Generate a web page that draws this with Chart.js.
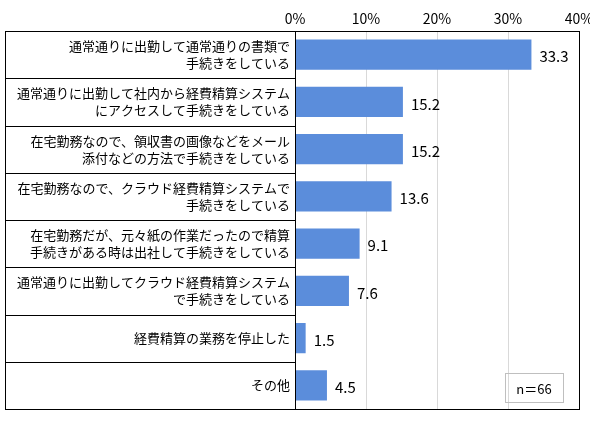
<!DOCTYPE html>
<html lang="ja">
<head>
<meta charset="UTF-8">
<script src="https://cdn.jsdelivr.net/npm/chart.js"></script>
<style>
  body { margin: 0; background: #fff; }
  #wrap { width: 590px; height: 427px; position: relative; }
</style>
</head>
<body>
<div id="wrap"><canvas id="c"></canvas></div>
<script>
const labels = [
  ['通常通りに出勤して通常通りの書類で', '手続きをしている'],
  ['通常通りに出勤して社内から経費精算システム', 'にアクセスして手続きをしている'],
  ['在宅勤務なので、領収書の画像などをメール', '添付などの方法で手続きをしている'],
  ['在宅勤務なので、クラウド経費精算システムで', '手続きをしている'],
  ['在宅勤務だが、元々紙の作業だったので精算', '手続きがある時は出社して手続きをしている'],
  ['通常通りに出勤してクラウド経費精算システム', 'で手続きをしている'],
  ['経費精算の業務を停止した'],
  ['その他']
];
const values = [33.3, 15.2, 15.2, 13.6, 9.1, 7.6, 1.5, 4.5];
const xTicks = [0, 10, 20, 30, 40];
const note = 'n＝66';
const FONT = '"Noto Sans CJK JP", sans-serif';

const decor = {
  id: 'decor',
  afterDraw(chart) {
    const { ctx, chartArea: a, scales: { y } } = chart;
    const step = y.getPixelForValue(1) - y.getPixelForValue(0);
    ctx.save();
    ctx.strokeStyle = '#000';
    ctx.lineWidth = 1;
    // left label box
    ctx.strokeRect(5.5, a.top + 0.5, a.left - 5, a.bottom - a.top);
    for (let i = 1; i < labels.length; i++) {
      const yy = Math.round(y.getPixelForValue(i) - step / 2) + 0.5;
      ctx.beginPath(); ctx.moveTo(5, yy); ctx.lineTo(a.left, yy); ctx.stroke();
    }
    // plot frame
    ctx.strokeRect(a.left + 0.5, a.top + 0.5, a.right - a.left, a.bottom - a.top);
    ctx.fillStyle = '#000';
    ctx.font = '13px ' + FONT;
    ctx.textAlign = 'right';
    ctx.textBaseline = 'middle';
    labels.forEach((lines, i) => {
      const cy = y.getPixelForValue(i);
      const lh = 17;
      lines.forEach((t, j) => {
        ctx.fillText(t, a.left - 5, cy + (j - (lines.length - 1) / 2) * lh);
      });
    });
    // value labels
    const meta = chart.getDatasetMeta(0);
    ctx.textAlign = 'left';
    ctx.font = '15px ' + FONT;
    meta.data.forEach((bar, i) => {
      ctx.fillText(values[i].toFixed(1), bar.x + 8, bar.y + 2);
    });
    // n box
    ctx.strokeStyle = '#bfbfbf';
    ctx.strokeRect(505.5, 373.5, 58, 29);
    ctx.textAlign = 'center';
    ctx.font = '13px ' + FONT;
    ctx.fillText(note, 534, 389);
    ctx.restore();
  }
};

new Chart(document.getElementById('c'), {
  type: 'bar',
  data: {
    labels: labels.map(l => l.join('')),
    datasets: [{
      data: values,
      backgroundColor: '#5B8DDB',
      categoryPercentage: 1,
      barPercentage: 0.64
    }]
  },
  options: {
    indexAxis: 'y',
    responsive: true,
    maintainAspectRatio: false,
    animation: false,
    layout: { padding: { left: 295, right: 11, top: 0, bottom: 18 } },
    plugins: { legend: { display: false }, tooltip: { enabled: false } },
    scales: {
      x: {
        position: 'top',
        min: 0, max: 40,
        afterBuildTicks: s => { s.ticks = xTicks.map(v => ({ value: v })); },
        afterFit: s => { s.height = 31; s.paddingRight = 0; s.paddingLeft = 0; },
        ticks: { callback: v => v + '%', color: '#000', font: { family: FONT, size: 14 }, padding: 4, maxRotation: 0 },
        grid: { color: '#d9d9d9', drawTicks: false },
        border: { display: false }
      },
      y: { display: false }
    }
  },
  plugins: [decor]
});
</script>
</body>
</html>
